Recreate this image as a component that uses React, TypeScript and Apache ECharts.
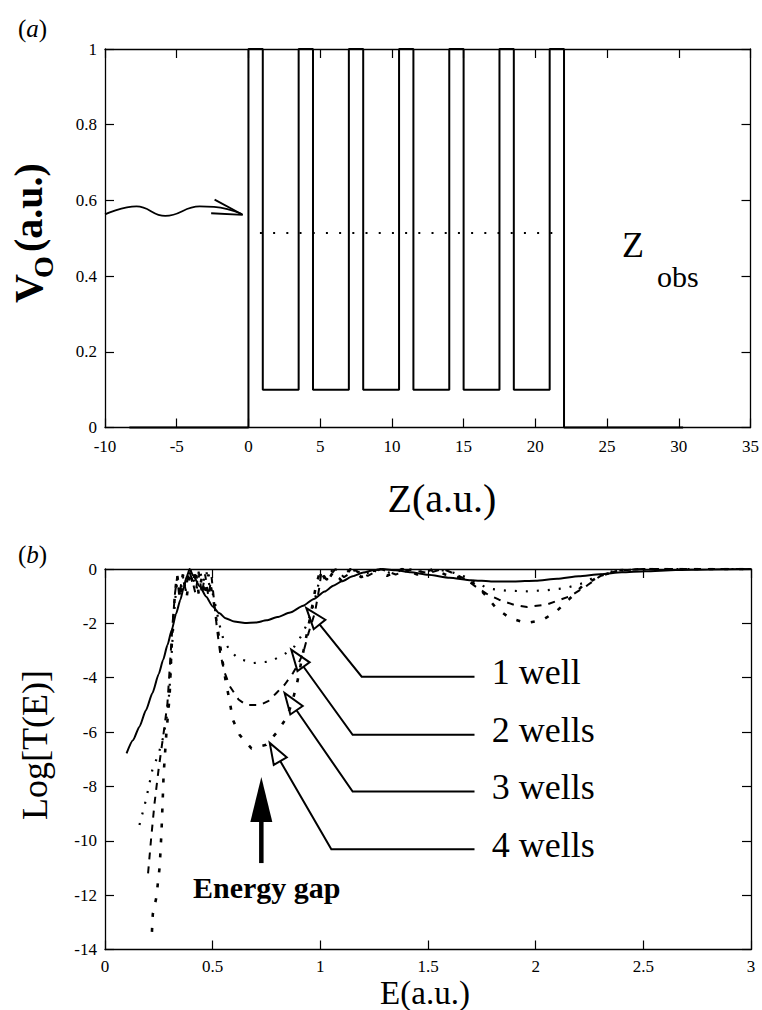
import React, { useEffect, useRef } from "react";
import * as echarts from "echarts";

const SERIF = "Liberation Serif";

// ---------- Panel (a) data ----------
const zProfile = [-8.3, 0, 0, 1, 1, 3.5, 3.5, 4.5, 4.5, 7, 7, 8, 8, 10.5, 10.5, 11.5, 11.5, 14, 14, 15, 15, 17.5, 17.5, 18.5, 18.5, 21, 21, 22, 22, 30.3];
const vProfile = [0, 0, 1, 1, 0.1, 0.1, 1, 1, 0.1, 0.1, 1, 1, 0.1, 0.1, 1, 1, 0.1, 0.1, 1, 1, 0.1, 0.1, 1, 1, 0.1, 0.1, 1, 1, 0, 0];
const levelZ = [0.8, 21.7];
const levelV = [0.514, 0.514];
const waveZ = [-10, -7.8, -5.8, -3.4, -2.4, -0.45];
const waveV = [0.563, 0.584, 0.559, 0.584, 0.583, 0.564];
const barbZ = [-2.36, -0.4, -2.6];
const barbV = [0.602, 0.562, 0.566];

// ---------- Panel (b) data: [E, Log T] ----------
const well1 = [[0.10,-6.78],[0.13,-6.3],[0.16,-5.8],[0.19,-5.2],[0.22,-4.57],[0.25,-3.85],[0.27,-3.34],[0.29,-2.8],[0.31,-2.24],[0.33,-1.65],[0.35,-1.13],[0.365,-0.7],[0.38,-0.27],[0.393,0],[0.41,-0.25],[0.44,-0.64],[0.47,-1.02],[0.50,-1.38],[0.53,-1.62],[0.56,-1.81],[0.60,-1.93],[0.65,-1.99],[0.70,-1.97],[0.75,-1.89],[0.80,-1.77],[0.86,-1.6],[0.92,-1.35],[0.97,-1.1],[1.02,-0.83],[1.06,-0.62],[1.10,-0.45],[1.15,-0.27],[1.20,-0.13],[1.25,-0.04],[1.29,0],[1.35,-0.05],[1.42,-0.12],[1.50,-0.21],[1.60,-0.32],[1.70,-0.41],[1.80,-0.46],[1.90,-0.46],[2.00,-0.43],[2.10,-0.36],[2.20,-0.27],[2.30,-0.19],[2.40,-0.12],[2.51,-0.08],[2.65,-0.04],[2.80,-0.02],[3.00,0]];
const well2 = [[0.16,-9.42],[0.19,-8.5],[0.22,-7.39],[0.25,-6.77],[0.27,-6.2],[0.285,-5.55],[0.298,-4.6],[0.305,-3.7],[0.312,-2.8],[0.318,-2.0],[0.325,-1.2],[0.335,-0.5],[0.35,-0.9],[0.365,-0.15],[0.38,-0.6],[0.395,0],[0.41,-0.35],[0.425,-0.75],[0.44,-0.05],[0.455,-0.5],[0.47,-0.08],[0.485,-0.6],[0.50,-0.9],[0.515,-1.4],[0.53,-2.0],[0.55,-2.6],[0.58,-3.0],[0.62,-3.3],[0.69,-3.46],[0.77,-3.4],[0.84,-3.1],[0.88,-2.85],[0.91,-2.48],[0.94,-2.0],[0.965,-1.4],[0.985,-0.8],[1.0,-0.2],[1.02,-0.45],[1.05,-0.05],[1.09,-0.35],[1.14,0],[1.2,-0.2],[1.26,-0.02],[1.33,-0.15],[1.4,0],[1.47,-0.1],[1.55,-0.02],[1.62,-0.14],[1.67,-0.28],[1.72,-0.48],[1.78,-0.72],[1.87,-0.8],[1.96,-0.82],[2.05,-0.78],[2.14,-0.7],[2.22,-0.52],[2.28,-0.27],[2.36,-0.08],[2.45,-0.02],[2.6,0],[3.0,0]];
const well3 = [[0.20,-11.2],[0.215,-9.85],[0.23,-8.62],[0.25,-7.3],[0.27,-6.17],[0.29,-4.94],[0.305,-3.1],[0.315,-1.9],[0.325,-0.9],[0.335,-0.3],[0.345,-1.0],[0.36,-0.2],[0.375,-0.8],[0.39,-0.05],[0.405,-0.4],[0.42,-0.9],[0.435,-0.1],[0.45,-0.9],[0.465,-0.2],[0.48,-1.0],[0.495,-0.3],[0.507,-1.2],[0.52,-2.2],[0.535,-3.1],[0.555,-3.8],[0.58,-4.32],[0.62,-4.8],[0.656,-5.0],[0.72,-5.0],[0.76,-4.85],[0.795,-4.57],[0.835,-4.25],[0.873,-3.83],[0.9,-3.45],[0.92,-3.1],[0.945,-2.36],[0.975,-1.6],[0.995,-0.7],[1.005,-0.1],[1.03,-0.4],[1.07,0],[1.11,-0.3],[1.16,-0.05],[1.22,-0.25],[1.28,0],[1.35,-0.2],[1.42,-0.02],[1.5,-0.15],[1.57,0],[1.63,-0.2],[1.68,-0.4],[1.72,-0.64],[1.78,-0.95],[1.83,-1.13],[1.9,-1.32],[1.96,-1.4],[2.05,-1.31],[2.16,-1.0],[2.24,-0.6],[2.3,-0.26],[2.38,-0.06],[2.5,0],[3.0,0]];
const well4 = [[0.218,-13.35],[0.222,-12.7],[0.238,-12.1],[0.254,-10.95],[0.262,-9.72],[0.268,-8.5],[0.272,-7.6],[0.285,-6.04],[0.30,-4.69],[0.308,-3.1],[0.316,-1.9],[0.325,-0.9],[0.335,-0.2],[0.35,-1.1],[0.365,-0.4],[0.38,-1.0],[0.395,-0.1],[0.41,-0.6],[0.42,0],[0.435,-0.9],[0.45,-0.3],[0.465,-1.0],[0.48,-0.2],[0.495,-0.8],[0.505,-1.2],[0.517,-1.87],[0.54,-3.1],[0.56,-4.1],[0.579,-4.87],[0.594,-5.55],[0.625,-6.1],[0.68,-6.6],[0.749,-6.47],[0.795,-6.04],[0.842,-5.49],[0.865,-5.0],[0.889,-4.32],[0.912,-3.4],[0.935,-2.48],[0.957,-1.6],[0.98,-0.6],[1.0,-0.05],[1.03,-0.5],[1.06,-0.1],[1.1,-0.45],[1.14,0],[1.19,-0.3],[1.25,-0.05],[1.31,-0.25],[1.38,0],[1.45,-0.2],[1.52,-0.02],[1.58,-0.2],[1.64,-0.3],[1.71,-0.52],[1.76,-0.9],[1.817,-1.44],[1.879,-1.8],[1.956,-1.99],[2.033,-1.87],[2.096,-1.56],[2.157,-1.1],[2.22,-0.6],[2.3,-0.26],[2.38,-0.05],[2.5,0],[3.0,0]];

// annotation leaders
const wellLabels = ["1 well", "2 wells", "3 wells", "4 wells"];
const leaderTipE = [0.935, 0.865, 0.834, 0.765];
const leaderTipL = [-1.44, -2.97, -4.56, -6.40];
const leaderElbowE = [1.192, 1.150, 1.150, 1.051];
const leaderElbowL = [-3.96, -6.10, -8.19, -10.31];
const leaderEndE = 1.716;
const leaderLabelE = 1.796;

// energy gap arrow: [E, tipL, tailL, labelE, labelL]
const gapArrow = [0.726, -7.65, -10.82, 0.751, -11.73];

const zip = (a: number[], b: number[]) => a.map((v, i) => [v, b[i]]);

const tickLabel = (margin: number) => ({ color: "#000", fontFamily: SERIF, fontSize: 17, margin });

function axisBase(extra: any) {
  return {
    type: "value",
    splitLine: { show: false },
    axisLine: { show: true, onZero: false, lineStyle: { color: "#000", width: 1.3 } },
    axisTick: { show: true, inside: true, length: 9, lineStyle: { color: "#000", width: 1.2 } },
    ...extra,
  };
}

export default function App() {
  const ref = useRef<HTMLDivElement>(null);

  useEffect(() => {
    if (!ref.current) return;
    const chart = echarts.init(ref.current, null, { renderer: "svg" });

    const option: any = {
      animation: false,
      backgroundColor: "#fff",
      textStyle: { fontFamily: SERIF },
      grid: [
        { left: 105, top: 49, width: 647, height: 378.5 },
        { left: 105, top: 569, width: 646, height: 380.5 },
      ],
      xAxis: [
        axisBase({ gridIndex: 0, position: "bottom", min: -10, max: 35, interval: 5, axisLabel: tickLabel(10) }),
        axisBase({ gridIndex: 0, position: "top", min: -10, max: 35, interval: 5, axisLabel: { show: false } }),
        axisBase({ gridIndex: 1, position: "bottom", min: 0, max: 3, interval: 0.5, axisLabel: tickLabel(8) }),
        axisBase({ gridIndex: 1, position: "top", min: 0, max: 3, interval: 0.5, axisLabel: { show: false } }),
      ],
      yAxis: [
        axisBase({ gridIndex: 0, position: "left", min: 0, max: 1, interval: 0.2, axisLabel: tickLabel(8) }),
        axisBase({ gridIndex: 0, position: "right", min: 0, max: 1, interval: 0.2, axisLabel: { show: false } }),
        axisBase({ gridIndex: 1, position: "left", min: -14, max: 0, interval: 2, axisLabel: tickLabel(8) }),
        axisBase({ gridIndex: 1, position: "right", min: -14, max: 0, interval: 2, axisLabel: { show: false } }),
      ],
      series: [
        {
          type: "line", xAxisIndex: 0, yAxisIndex: 0, data: zip(zProfile, vProfile),
          showSymbol: false, clip: false, lineStyle: { color: "#000", width: 2 },
        },
        {
          type: "line", xAxisIndex: 0, yAxisIndex: 0, data: zip(levelZ, levelV),
          showSymbol: false, lineStyle: { color: "#000", width: 2, type: [2, 11.2] },
        },
        {
          type: "line", xAxisIndex: 0, yAxisIndex: 0, data: zip(waveZ, waveV), smooth: 0.45,
          showSymbol: false, clip: false, lineStyle: { color: "#000", width: 1.8 },
        },
        {
          type: "line", xAxisIndex: 0, yAxisIndex: 0, data: zip(barbZ, barbV),
          showSymbol: false, clip: false, lineStyle: { color: "#000", width: 1.8 },
        },
        {
          type: "line", xAxisIndex: 2, yAxisIndex: 2, data: well1, showSymbol: false,
          smooth: 0.2, smoothMonotone: "x", lineStyle: { color: "#000", width: 2 },
        },
        {
          type: "line", xAxisIndex: 2, yAxisIndex: 2, data: well2, showSymbol: false,
          lineStyle: { color: "#000", width: 2.2, type: [2, 9] },
        },
        {
          type: "line", xAxisIndex: 2, yAxisIndex: 2, data: well3, showSymbol: false,
          lineStyle: { color: "#000", width: 2, type: [7, 7] },
        },
        {
          type: "line", xAxisIndex: 2, yAxisIndex: 2, data: well4, showSymbol: false,
          lineStyle: { color: "#000", width: 2.6, type: [4, 11] },
        },
        {
          type: "custom", xAxisIndex: 2, yAxisIndex: 2, clip: false,
          data: wellLabels.map((_, i) => [leaderTipE[i], leaderTipL[i], leaderElbowE[i], leaderElbowL[i], leaderEndE, leaderLabelE]),
          renderItem: (params: any, api: any) => {
            const i = params.dataIndex;
            const tip = api.coord([api.value(0), api.value(1)]);
            const elbow = api.coord([api.value(2), api.value(3)]);
            const end = api.coord([api.value(4), api.value(3)]);
            const labelX = api.coord([api.value(5), api.value(3)])[0];
            const dx = elbow[0] - tip[0];
            const dy = elbow[1] - tip[1];
            const len = Math.hypot(dx, dy);
            const ux = dx / len, uy = dy / len;
            const headLen = 21, halfW = 7.5;
            const base = [tip[0] + ux * headLen, tip[1] + uy * headLen];
            const px = -uy, py = ux;
            const p1 = [base[0] + px * halfW, base[1] + py * halfW];
            const p2 = [base[0] - px * halfW, base[1] - py * halfW];
            return {
              type: "group",
              children: [
                { type: "polyline", shape: { points: [base, elbow, end] }, style: { stroke: "#000", lineWidth: 2, fill: "none" } },
                { type: "polygon", shape: { points: [tip, p1, p2] }, style: { stroke: "#000", lineWidth: 2, fill: "#fff" } },
                {
                  type: "text",
                  style: {
                    text: wellLabels[i], x: labelX, y: end[1] - 4.5, fill: "#000",
                    fontSize: 36, fontFamily: SERIF, align: "left", verticalAlign: "middle",
                  },
                },
              ],
            };
          },
        },
        {
          type: "custom", xAxisIndex: 2, yAxisIndex: 2, clip: false,
          data: [gapArrow],
          renderItem: (params: any, api: any) => {
            const tip = api.coord([api.value(0), api.value(1)]);
            const tail = api.coord([api.value(0), api.value(2)]);
            const lab = api.coord([api.value(3), api.value(4)]);
            const headLen = 45, halfW = 11, shaftW = 4.5;
            return {
              type: "group",
              children: [
                { type: "rect", shape: { x: tip[0] - shaftW / 2, y: tip[1] + headLen - 4, width: shaftW, height: tail[1] - tip[1] - headLen + 4 }, style: { fill: "#000" } },
                { type: "polygon", shape: { points: [tip, [tip[0] - halfW, tip[1] + headLen], [tip[0] + halfW, tip[1] + headLen]] }, style: { fill: "#000" } },
                {
                  type: "text",
                  style: {
                    text: "Energy gap", x: lab[0], y: lab[1], fill: "#000",
                    fontSize: 30, fontWeight: "bold", fontFamily: SERIF, align: "center", verticalAlign: "middle",
                  },
                },
              ],
            };
          },
        },
      ],
      graphic: [
        {
          type: "text", left: 18, top: 16,
          style: {
            text: "{n|(}{i|a}{n|)}", fill: "#000",
            rich: {
              n: { fontSize: 25, fontFamily: SERIF, fill: "#000" },
              i: { fontSize: 25, fontFamily: SERIF, fontStyle: "italic", fill: "#000" },
            },
          },
        },
        {
          type: "text", left: 18, top: 542,
          style: {
            text: "{n|(}{i|b}{n|)}", fill: "#000",
            rich: {
              n: { fontSize: 25, fontFamily: SERIF, fill: "#000" },
              i: { fontSize: 25, fontFamily: SERIF, fontStyle: "italic", fill: "#000" },
            },
          },
        },
        {
          type: "group", x: 32, y: 232, rotation: Math.PI / 2,
          children: [
            { type: "text", x: -71, y: -3.4, style: { text: "V", fontSize: 40, fontWeight: "bold", fontFamily: SERIF, fill: "#000", align: "left", verticalAlign: "middle" } },
            { type: "text", x: -46, y: 11.2, style: { text: "O", fontSize: 28, fontWeight: "bold", fontFamily: SERIF, fill: "#000", align: "left", verticalAlign: "middle" } },
            { type: "text", x: -20, y: -3.4, style: { text: "(a.u.)", fontSize: 40, fontWeight: "bold", fontFamily: SERIF, fill: "#000", align: "left", verticalAlign: "middle" } },
          ],
        },
        { type: "text", x: 442, y: 498, style: { text: "Z(a.u.)", fontSize: 40, fontFamily: SERIF, fill: "#000", align: "center", verticalAlign: "middle" } },
        { type: "text", x: 622, y: 244.5, style: { text: "Z", fontSize: 36, fontFamily: SERIF, fill: "#000", align: "left", verticalAlign: "middle" } },
        { type: "text", x: 657, y: 276, style: { text: "obs", fontSize: 30, fontFamily: SERIF, fill: "#000", align: "left", verticalAlign: "middle" } },
        {
          type: "text", x: 35, y: 745, rotation: Math.PI / 2,
          style: { text: "Log[T(E)]", fontSize: 36, fontFamily: SERIF, fill: "#000", align: "center", verticalAlign: "middle" },
        },
        { type: "text", x: 425, y: 992.5, style: { text: "E(a.u.)", fontSize: 33, lineHeight: 30, fontFamily: SERIF, fill: "#000", align: "center", verticalAlign: "middle" } },
      ],
    };

    chart.setOption(option);
    return () => chart.dispose();
  }, []);

  return (
    <div
      ref={ref}
      style={{ position: "absolute", left: 0, top: 0, width: 762, height: 1010, background: "#fff" }}
    />
  );
}
